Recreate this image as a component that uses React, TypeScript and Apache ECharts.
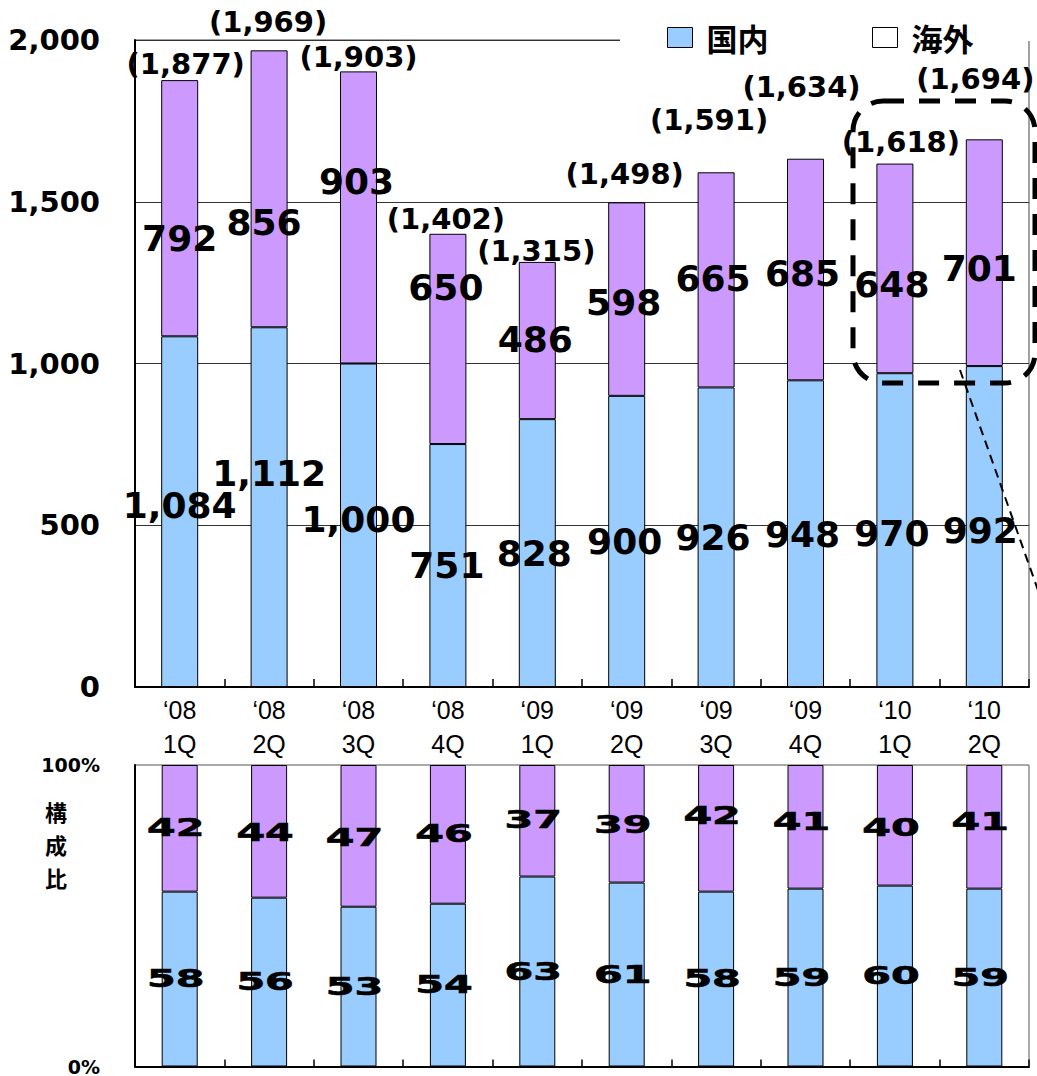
import React, { useEffect, useRef } from "react";
import * as echarts from "echarts";

// ---- data ----
const quarters = [
  "‘08\n1Q", "‘08\n2Q", "‘08\n3Q", "‘08\n4Q",
  "‘09\n1Q", "‘09\n2Q", "‘09\n3Q", "‘09\n4Q",
  "‘10\n1Q", "‘10\n2Q",
];
const domestic = [1084, 1112, 1000, 751, 828, 900, 926, 948, 970, 992];
const overseas = [792, 856, 903, 650, 486, 598, 665, 685, 648, 701];
const totals = [1877, 1969, 1903, 1402, 1315, 1498, 1591, 1634, 1618, 1694];
const domesticShare = [58, 56, 53, 54, 63, 61, 58, 59, 60, 59];
const overseasShare = [42, 44, 47, 46, 37, 39, 42, 41, 40, 41];
const amountAxis = { min: 0, max: 2000, step: 500 };
const shareAxis = { min: 0, max: 100, step: 100 };
const sideTitle = ["構", "成", "比"];

// ---- label nudges (pixels) ----
const domesticLabelShift = [[0, -6], [0, -34], [0, -6], [-1, 0], [-3, 0], [-2, 0], [-3, 0], [-3, 1], [-3, 3], [-4, 4]];
const overseasLabelShift = [[0, 30], [-5, 34], [-2, -36], [-2, -51], [-2, -1], [-3, 3], [-3, -1], [-3, 4], [-3, 16], [-5, 16]];
const totalLabelShift = [[6, -16], [-1, -28], [0, -14], [-2, -14], [-1, -11], [-2, -28], [-7, -52], [-4, -71], [6, -22], [-9, -60]];
const overseasShareShift = [0, 1, 2, -1, -1, 1, -12, -5, 3, -5];

const BLUE = "#99CCFF";
const PURPLE = "#CC99FF";
const NUM_FONT = '"DejaVu Sans"';
const fmt = (v: number) => v.toLocaleString("en-US");

export default function App() {
  const ref = useRef<HTMLDivElement>(null);

  useEffect(() => {
    if (!ref.current) return;
    const chart = echarts.init(ref.current, null, { renderer: "svg" });

    const bigLabel = {
      show: true,
      position: "inside",
      fontFamily: NUM_FONT,
      fontWeight: "bold",
      fontSize: 36,
      color: "#000",
      textBorderWidth: 0,
      formatter: (p: any) => fmt(p.value),
    };

    const shareLabelItem = (params: any, api: any) => {
      const pt = api.coord([api.value(0), api.value(1)]);
      return {
        type: "text",
        x: pt[0] - 4,
        y: pt[1] + api.value(3),
        scaleX: 1.72,
        style: {
          text: String(api.value(2)),
          font: `bold 24px ${NUM_FONT}`,
          fill: "#000",
          stroke: "#000",
          lineWidth: 0.6,
          align: "center",
          verticalAlign: "middle",
        },
      };
    };

    const legendText = {
      fontFamily: '"Noto Sans CJK JP"', fontWeight: "bold", fontSize: 31, color: "#000", padding: [0, 0, 0, 9],
    };

    const option: any = {
      animation: false,
      backgroundColor: "#fff",
      grid: [
        { left: 135, right: 8, top: 40, height: 647, show: true, borderColor: "#444", borderWidth: 1 },
        { left: 135, right: 8, top: 765, height: 303, show: true, borderColor: "#555", borderWidth: 1 },
      ],
      legend: [
        {
          data: [{ name: "国内", icon: "rect", itemStyle: { color: BLUE, borderColor: "#000", borderWidth: 1 } }],
          left: 667, top: 22, padding: 0, itemWidth: 25, itemHeight: 20, selectedMode: false, z: 5,
          textStyle: legendText,
        },
        {
          data: [{ name: "海外", icon: "rect", itemStyle: { color: "#fff", borderColor: "#000", borderWidth: 1 } }],
          left: 872, top: 22, padding: 0, itemWidth: 25, itemHeight: 20, selectedMode: false, z: 5,
          textStyle: legendText,
        },
      ],
      xAxis: [
        {
          type: "category", gridIndex: 0, data: quarters,
          axisLine: { lineStyle: { color: "#000", width: 2 } },
          axisTick: { show: true, inside: true, length: 8, lineStyle: { color: "#000", width: 1.5 } },
          axisLabel: { interval: 0, fontFamily: '"Liberation Sans", Arial', fontSize: 25, color: "#000", lineHeight: 34, margin: 6 },
        },
        {
          type: "category", gridIndex: 1, data: quarters,
          axisLine: { lineStyle: { color: "#000", width: 2 } },
          axisTick: { show: true, inside: true, length: 7, lineStyle: { color: "#000", width: 1.5 } },
          axisLabel: { show: false },
        },
      ],
      yAxis: [
        {
          type: "value", gridIndex: 0, min: amountAxis.min, max: amountAxis.max, interval: amountAxis.step,
          axisLine: { show: true, lineStyle: { color: "#000", width: 2 } },
          axisTick: { show: false },
          splitLine: { show: true, lineStyle: { color: "#333", width: 1 } },
          axisLabel: { fontFamily: NUM_FONT, fontWeight: "bold", fontSize: 29, color: "#000", margin: 35, formatter: (v: number) => fmt(v) },
        },
        {
          type: "value", gridIndex: 1, min: shareAxis.min, max: shareAxis.max, interval: shareAxis.step,
          axisLine: { show: true, lineStyle: { color: "#000", width: 2 } },
          axisTick: { show: false },
          splitLine: { show: false },
          axisLabel: { fontFamily: NUM_FONT, fontWeight: "bold", fontSize: 19, color: "#000", margin: 35, formatter: (v: number) => v + "%" },
        },
      ],
      series: [
        {
          name: "国内", type: "bar", stack: "amount", xAxisIndex: 0, yAxisIndex: 0, barWidth: 37,
          itemStyle: { color: BLUE, borderColor: "#000", borderWidth: 1 },
          label: bigLabel,
          data: domestic.map((v, i) => ({ value: v, label: { offset: domesticLabelShift[i] } })),
        },
        {
          name: "海外", type: "bar", stack: "amount", xAxisIndex: 0, yAxisIndex: 0, barWidth: 37,
          itemStyle: { color: PURPLE, borderColor: "#000", borderWidth: 1 },
          label: bigLabel,
          data: overseas.map((v, i) => ({ value: v, label: { offset: overseasLabelShift[i] } })),
        },
        {
          name: "合計", type: "scatter", xAxisIndex: 0, yAxisIndex: 0, symbolSize: 0, z: 6,
          itemStyle: { color: "#000", opacity: 1 },
          label: {
            show: true, position: "inside", fontFamily: NUM_FONT, fontWeight: "bold", fontSize: 29, color: "#000",
            textBorderWidth: 0, opacity: 1,
            formatter: (p: any) => `(${fmt(p.value)})`,
          },
          data: totals.map((v, i) => ({ value: v, label: { offset: totalLabelShift[i] } })),
        },
        {
          name: "国内", type: "bar", stack: "share", xAxisIndex: 1, yAxisIndex: 1, barWidth: 36,
          itemStyle: { color: BLUE, borderColor: "#000", borderWidth: 1 },
          data: domesticShare,
        },
        {
          name: "海外", type: "bar", stack: "share", xAxisIndex: 1, yAxisIndex: 1, barWidth: 36,
          itemStyle: { color: PURPLE, borderColor: "#000", borderWidth: 1 },
          data: overseasShare,
        },
        {
          type: "custom", xAxisIndex: 1, yAxisIndex: 1, z: 6, encode: { x: 0, y: 1 },
          renderItem: shareLabelItem,
          data: domesticShare.map((v, i) => [i, v / 2, v, 0]),
        },
        {
          type: "custom", xAxisIndex: 1, yAxisIndex: 1, z: 6, encode: { x: 0, y: 1 },
          renderItem: shareLabelItem,
          data: overseasShare.map((v, i) => [i, domesticShare[i] + v / 2, v, overseasShareShift[i]]),
        },
      ],
      graphic: [
        { type: "rect", z: 3, silent: true, shape: { x: 620, y: 0, width: 420, height: 41 }, style: { fill: "#fff" } },
        {
          type: "rect", z: 10, silent: true,
          shape: { x: 853, y: 101, width: 182, height: 282, r: 30 },
          style: { fill: "none", stroke: "#000", lineWidth: 5, lineDash: [21, 15] },
        },
        {
          type: "line", z: 10, silent: true,
          shape: { x1: 960, y1: 370, x2: 1045, y2: 610 },
          style: { stroke: "#000", lineWidth: 2, lineDash: [9, 6] },
        },
        ...sideTitle.map((ch, i) => ({
          type: "text", z: 10, silent: true, x: 56, y: 811 + i * 33,
          style: { text: ch, font: 'bold 22px "Noto Sans CJK JP"', fill: "#000", align: "center", verticalAlign: "middle" },
        })),
      ],
    };

    chart.setOption(option);
    return () => chart.dispose();
  }, []);

  return (
    <div
      ref={ref}
      style={{ position: "absolute", left: 0, top: 0, width: 1037, height: 1076 }}
    />
  );
}
